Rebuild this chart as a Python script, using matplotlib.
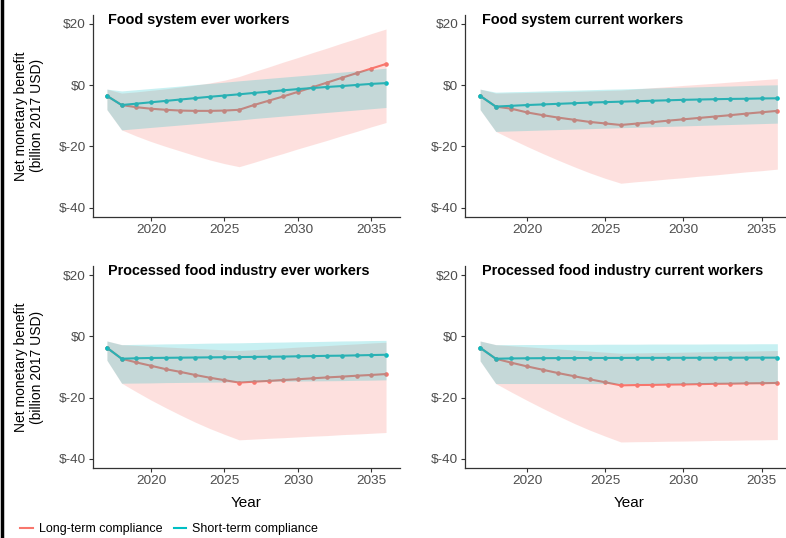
import numpy as np
import matplotlib
matplotlib.use("Agg")
import matplotlib.pyplot as plt
from matplotlib.lines import Line2D

plt.rcParams['font.family'] = ['Liberation Sans', 'DejaVu Sans']

years = list(range(2017, 2037))

# Food system ever workers
fse_long = [-3.5, -6.5, -7.2, -7.7, -8.05, -8.3, -8.4, -8.4, -8.3, -8.05, -6.5, -5.1, -3.7, -2.2, -0.7, 0.85, 2.4, 3.9, 5.4, 6.9]
fse_long_lo = [-8.0, -14.6, -16.6, -18.4, -20.0, -21.5, -23.0, -24.4, -25.6, -26.6, -25.2, -23.7, -22.3, -20.8, -19.4, -18.0, -16.5, -15.1, -13.6, -12.2]
fse_long_hi = [-1.3, -2.6, -2.2, -1.7, -1.2, -0.6, 0.0, 0.7, 1.6, 2.8, 4.4, 5.9, 7.5, 9.0, 10.6, 12.1, 13.7, 15.2, 16.8, 18.3]
fse_short = [-3.5, -6.5, -6.05, -5.6, -5.15, -4.7, -4.25, -3.8, -3.4, -3.0, -2.55, -2.15, -1.7, -1.3, -0.95, -0.6, -0.3, 0.05, 0.4, 0.65]
fse_short_lo = [-8.0, -14.6, -14.2, -13.8, -13.4, -13.0, -12.6, -12.2, -11.8, -11.4, -10.9, -10.5, -10.1, -9.7, -9.3, -8.9, -8.5, -8.1, -7.7, -7.3]
fse_short_hi = [-1.3, -1.9, -1.5, -1.1, -0.7, -0.3, 0.15, 0.55, 0.95, 1.4, 1.8, 2.2, 2.6, 3.0, 3.4, 3.85, 4.25, 4.65, 5.1, 5.5]

# Food system current workers
fsc_long = [-3.5, -7.0, -7.7, -8.9, -9.8, -10.6, -11.3, -12.0, -12.5, -13.0, -12.55, -12.1, -11.6, -11.15, -10.7, -10.25, -9.8, -9.3, -8.85, -8.4]
fsc_long_lo = [-8.0, -15.1, -17.6, -20.0, -22.3, -24.5, -26.6, -28.6, -30.4, -32.0, -31.5, -31.1, -30.6, -30.2, -29.7, -29.3, -28.8, -28.3, -27.9, -27.4]
fsc_long_hi = [-1.3, -2.6, -2.5, -2.4, -2.3, -2.2, -2.05, -1.9, -1.75, -1.6, -1.25, -0.85, -0.5, -0.1, 0.25, 0.6, 1.0, 1.35, 1.75, 2.1]
fsc_short = [-3.5, -7.0, -6.75, -6.5, -6.3, -6.1, -5.9, -5.7, -5.55, -5.4, -5.25, -5.1, -4.95, -4.8, -4.7, -4.6, -4.5, -4.45, -4.35, -4.3]
fsc_short_lo = [-8.0, -15.1, -14.95, -14.8, -14.65, -14.5, -14.35, -14.2, -14.05, -13.9, -13.75, -13.6, -13.45, -13.3, -13.15, -13.0, -12.85, -12.7, -12.55, -12.4]
fsc_short_hi = [-1.3, -2.3, -2.15, -2.05, -1.9, -1.75, -1.65, -1.5, -1.35, -1.25, -1.1, -0.95, -0.8, -0.7, -0.55, -0.4, -0.3, -0.15, 0.0, 0.1]

# Processed food industry ever workers
pfe_long = [-3.7, -7.3, -8.5, -9.6, -10.7, -11.6, -12.6, -13.5, -14.3, -15.1, -14.8, -14.55, -14.25, -14.0, -13.7, -13.4, -13.15, -12.85, -12.6, -12.3]
pfe_long_lo = [-7.8, -15.3, -18.1, -20.8, -23.3, -25.7, -28.0, -30.1, -32.0, -33.8, -33.55, -33.3, -33.1, -32.85, -32.6, -32.4, -32.1, -31.9, -31.65, -31.4]
pfe_long_hi = [-1.5, -2.7, -2.95, -3.2, -3.45, -3.7, -3.9, -4.15, -4.4, -4.6, -4.35, -4.05, -3.8, -3.5, -3.25, -3.0, -2.7, -2.45, -2.15, -1.9]
pfe_short = [-3.7, -7.3, -7.15, -7.05, -7.0, -6.95, -6.9, -6.85, -6.8, -6.75, -6.7, -6.65, -6.6, -6.5, -6.45, -6.35, -6.3, -6.2, -6.1, -6.0]
pfe_short_lo = [-7.8, -15.3, -15.25, -15.2, -15.1, -15.05, -15.0, -14.95, -14.9, -14.85, -14.8, -14.7, -14.65, -14.6, -14.55, -14.5, -14.45, -14.35, -14.3, -14.2]
pfe_short_hi = [-1.5, -2.7, -2.6, -2.55, -2.45, -2.4, -2.3, -2.2, -2.15, -2.1, -2.0, -1.9, -1.85, -1.75, -1.7, -1.6, -1.5, -1.45, -1.35, -1.3]

# Processed food industry current workers
pfc_long = [-3.7, -7.3, -8.6, -9.8, -10.9, -12.0, -13.0, -14.0, -15.0, -16.0, -15.9, -15.85, -15.75, -15.7, -15.6, -15.5, -15.45, -15.35, -15.3, -15.2]
pfc_long_lo = [-8.0, -15.4, -18.2, -20.9, -23.5, -26.0, -28.4, -30.6, -32.6, -34.5, -34.4, -34.35, -34.25, -34.2, -34.1, -34.0, -33.95, -33.85, -33.8, -33.7]
pfc_long_hi = [-1.5, -2.7, -3.05, -3.4, -3.75, -4.1, -4.45, -4.8, -5.15, -5.5, -5.4, -5.3, -5.25, -5.15, -5.05, -4.95, -4.85, -4.8, -4.7, -4.6]
pfc_short = [-3.7, -7.3, -7.2, -7.15, -7.12, -7.1, -7.08, -7.06, -7.05, -7.04, -7.03, -7.02, -7.01, -7.0, -6.99, -6.98, -6.97, -6.96, -6.95, -6.95]
pfc_short_lo = [-8.0, -15.4, -15.4, -15.4, -15.4, -15.4, -15.4, -15.4, -15.4, -15.4, -15.4, -15.4, -15.4, -15.4, -15.4, -15.4, -15.4, -15.4, -15.4, -15.4]
pfc_short_hi = [-1.5, -2.7, -2.7, -2.65, -2.65, -2.6, -2.6, -2.6, -2.55, -2.55, -2.55, -2.5, -2.5, -2.5, -2.5, -2.45, -2.45, -2.45, -2.4, -2.4]

titles = ['Food system ever workers', 'Food system current workers',
          'Processed food industry ever workers', 'Processed food industry current workers']
panels = [
    (fse_long, fse_long_lo, fse_long_hi, fse_short, fse_short_lo, fse_short_hi),
    (fsc_long, fsc_long_lo, fsc_long_hi, fsc_short, fsc_short_lo, fsc_short_hi),
    (pfe_long, pfe_long_lo, pfe_long_hi, pfe_short, pfe_short_lo, pfe_short_hi),
    (pfc_long, pfc_long_lo, pfc_long_hi, pfc_short, pfc_short_lo, pfc_short_hi),
]
series_names = ['Long-term compliance', 'Short-term compliance']
yticks = [20, 0, -20, -40]
ytick_labels = ['$20', '$0', '$-20', '$-40']
xticks = [2020, 2025, 2030, 2035]

RED = '#F8766D'
CYAN = '#00BFC4'

fig = plt.figure(figsize=(7.86, 5.38), dpi=100)
boxes = [
    [0.1183, 0.5967, 0.3906, 0.3762],
    [0.5919, 0.5967, 0.4160, 0.3762],
    [0.1183, 0.1301, 0.3906, 0.3755],
    [0.5919, 0.1301, 0.4160, 0.3755],
]

for i, (box, title, data) in enumerate(zip(boxes, titles, panels)):
    ax = fig.add_axes(box)
    l_mid, l_lo, l_hi, s_mid, s_lo, s_hi = data
    ax.plot(years, l_mid, color=RED, lw=1.5, marker='o', ms=2.3, zorder=2)
    ax.plot(years, s_mid, color=CYAN, lw=1.5, marker='o', ms=2.3, zorder=2)
    ax.fill_between(years, l_lo, l_hi, color=RED, alpha=0.22, lw=0, zorder=3)
    ax.fill_between(years, s_lo, s_hi, color=CYAN, alpha=0.22, lw=0, zorder=3)

    ax.set_xlim(2016.05, 2036.95)
    ax.set_ylim(-43, 23)
    ax.set_xticks(xticks)
    ax.set_yticks(yticks)
    ax.set_yticklabels(ytick_labels)
    ax.tick_params(colors='#333333', labelcolor='#4D4D4D', labelsize=9.7,
                   length=3, width=0.8, pad=2)
    for side in ['top', 'right']:
        ax.spines[side].set_visible(False)
    for side in ['left', 'bottom']:
        ax.spines[side].set_color('#333333')
        ax.spines[side].set_linewidth(0.9)

    ax.text(2017.1, 21.2, title, fontsize=10.4, fontweight='bold',
            ha='left', va='center', zorder=5)

    if i >= 2:
        ax.set_xlabel('Year', fontsize=11)
        ax.xaxis.set_label_coords(0.5, -0.139)

# shared y label for each row
for yc in [0.7848, 0.3178]:
    fig.text(29 / 786, yc, 'Net monetary benefit\n(billion 2017 USD)', fontsize=10,
             rotation=90, ha='center', va='center', linespacing=1.15,
             multialignment='center')

handles = [Line2D([], [], color=RED, lw=1.5), Line2D([], [], color=CYAN, lw=1.5)]
fig.legend(handles, series_names, loc='center left', bbox_to_anchor=(0.026, 0.016),
           ncol=2, frameon=False, fontsize=9, handlelength=1.0,
           handletextpad=0.45, columnspacing=0.95, borderaxespad=0, borderpad=0)

# dark rule down the left edge
fig.add_artist(Line2D([0.0022, 0.0022], [0, 1], color='black', lw=2.5,
                      transform=fig.transFigure))

fig.savefig('out.png', dpi=100)
